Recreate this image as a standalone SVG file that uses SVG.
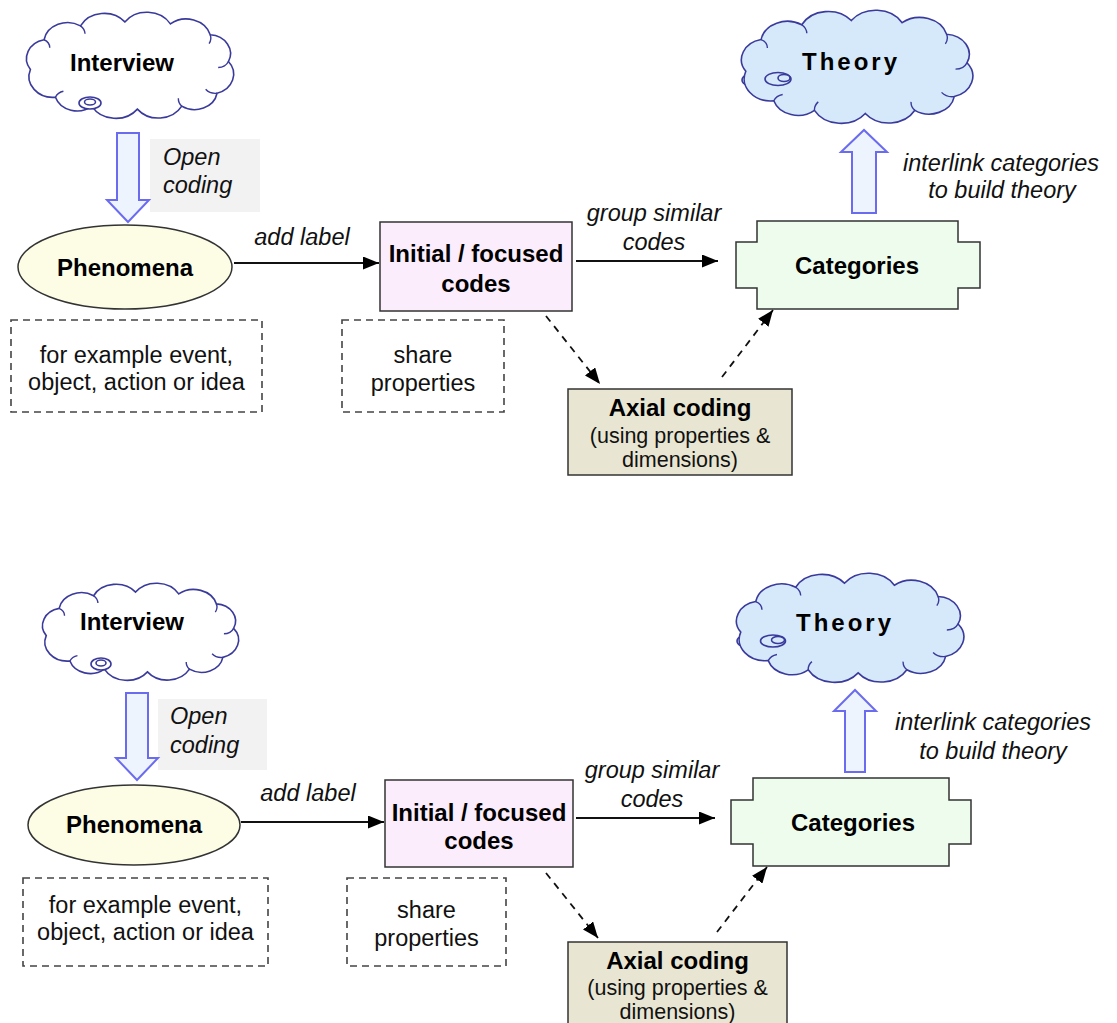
<svg xmlns="http://www.w3.org/2000/svg" width="1117" height="1023" viewBox="0 0 1117 1023">
<style>
  .bold{font-family:"Liberation Sans",Arial,sans-serif;font-weight:bold;font-size:24px;fill:#000;text-anchor:middle}
  .ital{font-family:"Liberation Sans",Arial,sans-serif;font-style:italic;font-size:23.5px;fill:#111;text-anchor:middle}
  .reg{font-family:"Liberation Sans",Arial,sans-serif;font-size:23.5px;fill:#111;text-anchor:middle}
  .small{font-family:"Liberation Sans",Arial,sans-serif;font-size:21.5px;fill:#111;text-anchor:middle}
  .cloud{stroke:#3a3a9c;stroke-width:1.6}
  .curl{fill:none;stroke:#3a3a9c;stroke-width:1.4}
  .hollow{fill:#eef4fd;stroke:#6b6bf0;stroke-width:2}
  .graybox{fill:#f2f2f2}
  .dashbox{fill:none;stroke:#444;stroke-width:1.6;stroke-dasharray:7 5}
  .line{stroke:#111;stroke-width:1.8;fill:none}
  .dline{stroke:#111;stroke-width:1.8;fill:none;stroke-dasharray:7 6}
</style>
<defs>
  <marker id="ah" viewBox="0 0 16 13" refX="16" refY="6.5" markerWidth="16" markerHeight="13" markerUnits="userSpaceOnUse" orient="auto">
    <path d="M0,0 L16,6.5 L0,13 Z" fill="#000"/>
  </marker>
  <path id="cloudShape" vector-effect="non-scaling-stroke" d="M12,60 A19.4,19.4 0 0 1 24,30 A21,21 0 0 1 56,16 A23.5,23.5 0 0 1 95,12 A24,24 0 0 1 135,14 A22,22 0 0 1 170,25 A19,19 0 0 1 186,52 A20,20 0 0 1 176,84 A20,20 0 0 1 145,97 A23.5,23.5 0 0 1 106,100 A24,24 0 0 1 66,97 A20,20 0 0 1 34,88 A21,21 0 0 1 12,60 Z"/>
  <path id="cloudCurls" vector-effect="non-scaling-stroke" d="M24,30 a9,9 0 0 1 5,8 M56,16 a11,11 0 0 1 4,8 M170,25 a11,11 0 0 1 -1,9 M186,52 a10,10 0 0 1 -9,6 M176,84 a11,11 0 0 1 -10,-4 M145,97 a11,11 0 0 1 -3,-8 M66,97 a11,11 0 0 1 3,-8 M34,88 a10,10 0 0 1 7,-6"/>
</defs>

<!-- ================= TOP COPY ================= -->
<g id="interview-top">
  <use href="#cloudShape" class="cloud" fill="#ffffff" transform="translate(16.76,10.02) scale(1.138,0.991)"/>
  <use href="#cloudCurls" class="curl" transform="translate(16.76,10.02) scale(1.138,0.991)"/>
  <ellipse cx="90" cy="103" rx="11" ry="6" fill="#fff" class="cloud"/>
  <ellipse cx="90" cy="102" rx="5.5" ry="3" fill="#fff" class="cloud"/>
  <text class="bold" x="122" y="71">Interview</text>
</g>
<g id="theory-top">
  <ellipse cx="763" cy="80" rx="21" ry="8.5" fill="#d5e9fa" class="cloud"/>
  <use href="#cloudShape" class="cloud" fill="#d5e9fa" transform="translate(730.56,7.89) scale(1.271,1.056)"/>
  <use href="#cloudCurls" class="curl" transform="translate(730.56,7.89) scale(1.271,1.056)"/>
  <ellipse cx="778" cy="79" rx="13" ry="6.5" fill="#d5e9fa" class="cloud"/>
  <ellipse cx="784" cy="78" rx="6" ry="3.5" fill="#d5e9fa" class="cloud"/>
  <text class="bold" x="851" y="70" style="letter-spacing:3px">Theory</text>
</g>
<g id="opencoding-top">
  <rect class="graybox" x="150" y="139" width="110" height="73"/>
  <path class="hollow" d="M117,133 H139 V200 H149 L128,222 L107,200 H117 Z"/>
  <text class="ital" x="163" y="165" style="text-anchor:start">Open</text>
  <text class="ital" x="163" y="193" style="text-anchor:start">coding</text>
</g>
<g id="phenomena-top">
  <ellipse cx="125" cy="267" rx="107" ry="42" fill="#fdfde6" stroke="#333" stroke-width="1.5"/>
  <text class="bold" x="125" y="276">Phenomena</text>
</g>
<g id="initial-top">
  <rect x="380" y="222" width="192" height="89" fill="#fcedfc" stroke="#333" stroke-width="1.5"/>
  <text class="bold" x="476" y="262">Initial / focused</text>
  <text class="bold" x="476" y="292">codes</text>
</g>
<g id="example-top">
  <rect class="dashbox" x="11" y="320" width="251" height="92"/>
  <text class="reg" x="136.5" y="363">for example event,</text>
  <text class="reg" x="136.5" y="390">object, action or idea</text>
</g>
<g id="share-top">
  <rect class="dashbox" x="342" y="320" width="162" height="92"/>
  <text class="reg" x="423" y="363">share</text>
  <text class="reg" x="423" y="391">properties</text>
</g>
<g id="categories-top">
  <path d="M757,221 H958 V242 H980 V288 H958 V309 H757 V288 H736 V242 H757 Z" fill="#eefcee" stroke="#333" stroke-width="1.5"/>
  <text class="bold" x="857" y="274">Categories</text>
</g>
<g id="axial-top">
  <rect x="568" y="389" width="224" height="86" fill="#e8e6d2" stroke="#333" stroke-width="1.5"/>
  <text class="bold" x="680" y="416">Axial coding</text>
  <text class="small" x="680" y="443">(using properties &amp;</text>
  <text class="small" x="680" y="467">dimensions)</text>
</g>
<g id="interlink-top">
  <path class="hollow" d="M852,213 V152 H841 L864,130 L887,152 H876 V213 Z"/>
  <text class="ital" x="1001" y="171">interlink categories</text>
  <text class="ital" x="1002" y="198">to build theory</text>
</g>

<!-- ================= BOTTOM COPY ================= -->
<g id="interview-bottom">
  <use href="#cloudShape" class="cloud" fill="#ffffff" transform="translate(33.3,581.2) scale(1.077,0.907)"/>
  <use href="#cloudCurls" class="curl" transform="translate(33.3,581.2) scale(1.077,0.907)"/>
  <ellipse cx="101" cy="664" rx="10" ry="6" fill="#fff" class="cloud"/>
  <ellipse cx="101" cy="663" rx="5" ry="3" fill="#fff" class="cloud"/>
  <text class="bold" x="132" y="630">Interview</text>
</g>
<g id="theory-bottom">
  <ellipse cx="760" cy="641" rx="23" ry="9" fill="#d5e9fa" class="cloud"/>
  <use href="#cloudShape" class="cloud" fill="#d5e9fa" transform="translate(725.76,570.96) scale(1.249,1.019)"/>
  <use href="#cloudCurls" class="curl" transform="translate(725.76,570.96) scale(1.249,1.019)"/>
  <ellipse cx="773" cy="641" rx="12.5" ry="6" fill="#d5e9fa" class="cloud"/>
  <ellipse cx="778" cy="640" rx="6.5" ry="3.5" fill="#d5e9fa" class="cloud"/>
  <text class="bold" x="845" y="631" style="letter-spacing:3px">Theory</text>
</g>
<g id="opencoding-bottom">
  <rect class="graybox" x="158" y="699" width="109" height="71"/>
  <path class="hollow" d="M126,693 H148 V758 H158 L137,780 L116,758 H126 Z"/>
  <text class="ital" x="170" y="724" style="text-anchor:start">Open</text>
  <text class="ital" x="170" y="753" style="text-anchor:start">coding</text>
</g>
<g id="phenomena-bottom">
  <ellipse cx="134" cy="825" rx="106" ry="40" fill="#fdfde6" stroke="#333" stroke-width="1.5"/>
  <text class="bold" x="134" y="833">Phenomena</text>
</g>
<g id="initial-bottom">
  <rect x="385" y="780" width="188" height="87" fill="#fcedfc" stroke="#333" stroke-width="1.5"/>
  <text class="bold" x="479" y="821">Initial / focused</text>
  <text class="bold" x="479" y="849">codes</text>
</g>
<g id="example-bottom">
  <rect class="dashbox" x="23" y="878" width="245" height="88"/>
  <text class="reg" x="145.5" y="913">for example event,</text>
  <text class="reg" x="145.5" y="940">object, action or idea</text>
</g>
<g id="share-bottom">
  <rect class="dashbox" x="347" y="878" width="159" height="88"/>
  <text class="reg" x="426.5" y="918">share</text>
  <text class="reg" x="426.5" y="946">properties</text>
</g>
<g id="categories-bottom">
  <path d="M753,778 H949 V800 H971 V844 H949 V866 H753 V844 H731 V800 H753 Z" fill="#eefcee" stroke="#333" stroke-width="1.5"/>
  <text class="bold" x="853" y="831">Categories</text>
</g>
<g id="axial-bottom">
  <rect x="568" y="942" width="219" height="90" fill="#e8e6d2" stroke="#333" stroke-width="1.5"/>
  <text class="bold" x="677.5" y="969">Axial coding</text>
  <text class="small" x="677.5" y="995">(using properties &amp;</text>
  <text class="small" x="677.5" y="1019">dimensions)</text>
</g>
<g id="interlink-bottom">
  <path class="hollow" d="M845,772 V711 H834 L855,690 L876,711 H865 V772 Z"/>
  <text class="ital" x="993" y="730">interlink categories</text>
  <text class="ital" x="993" y="759">to build theory</text>
</g>

<!-- ================= CONNECTORS ================= -->
<g id="connectors">
  <line class="line" x1="234" y1="263" x2="379" y2="263" marker-end="url(#ah)"/>
  <text class="ital" x="302" y="245">add label</text>
  <line class="line" x1="576" y1="261" x2="718" y2="261" marker-end="url(#ah)"/>
  <text class="ital" x="654" y="221">group similar</text>
  <text class="ital" x="654" y="250">codes</text>
  <line class="dline" x1="546" y1="316" x2="600" y2="384" marker-end="url(#ah)"/>
  <line class="dline" x1="722" y1="377" x2="773" y2="310" marker-end="url(#ah)"/>

  <line class="line" x1="241" y1="822" x2="384" y2="822" marker-end="url(#ah)"/>
  <text class="ital" x="308" y="801">add label</text>
  <line class="line" x1="576" y1="818" x2="715" y2="818" marker-end="url(#ah)"/>
  <text class="ital" x="652" y="778">group similar</text>
  <text class="ital" x="652" y="807">codes</text>
  <line class="dline" x1="546" y1="873" x2="598" y2="938" marker-end="url(#ah)"/>
  <line class="dline" x1="717" y1="932" x2="767" y2="867" marker-end="url(#ah)"/>
</g>
</svg>
